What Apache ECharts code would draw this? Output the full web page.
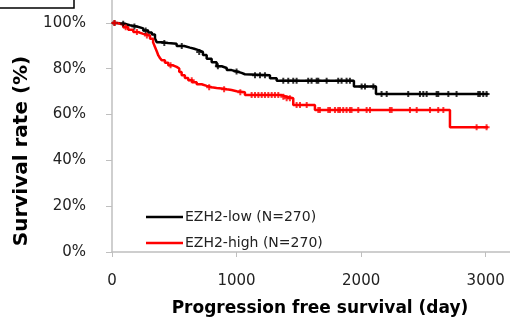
<!DOCTYPE html>
<html>
<head>
<meta charset="utf-8">
<script src="https://cdn.jsdelivr.net/npm/echarts@6/dist/echarts.min.js"></script>
<style>
  html, body { margin: 0; padding: 0; background: #fff; }
  #chart { width: 510px; height: 322px; }
</style>
</head>
<body>
<div id="chart"></div>
<script>
// Kaplan-Meier steps: day of each event and survival (%) after it
var lowDays = [0, 30, 64, 100, 144, 200, 251, 290, 320, 345, 359, 400, 450, 519, 580, 626, 660, 700, 730, 760, 800, 840, 880, 921, 960, 1001, 1040, 1067, 1268, 1322, 1942, 2119, 3020]
var lowSurv = [100, 99.8, 99.6, 99.0, 98.4, 97.6, 96.7, 95.8, 94.9, 93.2, 91.6, 91.2, 90.9, 89.9, 89.2, 88.7, 88.0, 87.3, 86.0, 84.4, 82.8, 81.1, 80.3, 79.4, 78.8, 78.2, 77.6, 77.2, 75.8, 74.7, 72.2, 69.0, 69.0]
var highDays = [0, 40, 91, 130, 171, 210, 251, 305, 330, 345, 360, 372, 385, 399, 425, 452, 490, 519, 540, 559, 585, 612, 645, 680, 720, 760, 800, 840, 880, 921, 960, 1001, 1067, 1362, 1400, 1455, 1629, 2713, 3018]
var highSurv = [100, 99.2, 98.1, 97.0, 96.0, 95.2, 94.5, 93.1, 91.5, 89.5, 87.5, 85.8, 84.7, 83.7, 82.6, 81.5, 80.8, 80.1, 78.6, 77.2, 76.0, 75.0, 74.1, 73.2, 72.5, 71.9, 71.6, 71.4, 71.0, 70.7, 70.2, 69.7, 68.5, 67.8, 67.1, 64.2, 62.0, 54.5, 54.5]

// censored cases (day)
var lowCensor = [20, 90, 180, 270, 420, 560, 700, 850, 1000, 1148, 1188, 1228, 1375, 1415, 1455, 1482, 1575, 1602, 1643, 1656, 1723, 1816, 1843, 1883, 1910, 2004, 2031, 2098, 2164, 2205, 2378, 2472, 2499, 2526, 2606, 2619, 2700, 2766, 2940, 2953, 2980, 3007]
var highCensor = [20, 110, 200, 280, 470, 640, 780, 900, 1030, 1121, 1148, 1175, 1202, 1228, 1255, 1282, 1308, 1335, 1375, 1402, 1428, 1482, 1509, 1563, 1656, 1669, 1736, 1750, 1790, 1816, 1830, 1856, 1883, 1910, 1923, 1977, 2044, 2071, 2231, 2245, 2392, 2446, 2553, 2619, 2660, 2927, 3007]

var seriesNames = ['EZH2-low (N=270)', 'EZH2-high (N=270)']
var xTicks = [0, 1000, 2000, 3000]
var yTicks = [0, 20, 40, 60, 80, 100]

function pairs(xs, ys) {
    return xs.map(function (x, i) { return [x, ys[i]] })
}
function survAt(days, surv, t) {
    var v = surv[0]
    for (var i = 0; i < days.length; i++) {
        if (days[i] <= t) v = surv[i]
    }
    return v
}
function censorPoints(c, days, surv) {
    return c.map(function (t) { return [t, survAt(days, surv, t)] })
}

var plus = 'path://M-1,-3H1V-1H3V1H1V3H-1V1H-3V-1H-1Z'
var font = 'DejaVu Sans'

var chart = echarts.init(document.getElementById('chart'))

var option = {
    animation: false,
    backgroundColor: '#fff',
    grid: { left: 112, right: 0, top: 0, bottom: 67 },
    legend: {
        orient: 'vertical',
        left: 141,
        top: 205,
        itemWidth: 37,
        itemHeight: 2.5,
        itemGap: 12,
        icon: 'rect',
        data: seriesNames,
        textStyle: { fontFamily: font, fontSize: 14, color: '#222', padding: [0, 0, 0, -3] }
    },
    xAxis: {
        type: 'value',
        min: 0,
        max: 3195,
        interval: 1000,
        name: 'Progression free survival (day)',
        nameLocation: 'middle',
        nameGap: 48,
        nameTextStyle: { fontFamily: font, fontSize: 17, fontWeight: 'bold', color: '#000', padding: [0, 0, 0, 18] },
        axisLine: { lineStyle: { color: '#bfbfbf', width: 1.5 } },
        axisTick: { show: true, length: 5, lineStyle: { color: '#bfbfbf' } },
        axisLabel: {
            fontFamily: font, fontSize: 15, color: '#222', margin: 22, showMaxLabel: false,
            formatter: function (v) { return xTicks.indexOf(v) >= 0 ? String(v) : '' }
        },
        splitLine: { show: false }
    },
    yAxis: {
        type: 'value',
        min: 0,
        max: 110,
        interval: 20,
        name: 'Survival rate (%)',
        nameLocation: 'middle',
        nameGap: 80,
        nameTextStyle: { fontFamily: font, fontSize: 20, fontWeight: 'bold', color: '#000', padding: [0, 50, 0, 0] },
        axisLine: { show: true, lineStyle: { color: '#bfbfbf', width: 1.5 } },
        axisTick: { show: true, length: 6, lineStyle: { color: '#bfbfbf' } },
        axisLabel: {
            fontFamily: font, fontSize: 15, color: '#222', margin: 26, showMaxLabel: false,
            formatter: function (v) { return yTicks.indexOf(v) >= 0 ? v + '%' : '' }
        },
        splitLine: { show: false }
    },
    series: [
        {
            name: seriesNames[0],
            type: 'line',
            step: 'end',
            showSymbol: false,
            color: '#000',
            lineStyle: { color: '#000', width: 2.5 },
            data: pairs(lowDays, lowSurv),
            z: 3
        },
        {
            name: seriesNames[1],
            type: 'line',
            step: 'end',
            showSymbol: false,
            color: '#ff0000',
            lineStyle: { color: '#ff0000', width: 2.5 },
            data: pairs(highDays, highSurv),
            z: 3
        },
        {
            name: 'low censored',
            type: 'scatter',
            symbol: plus,
            symbolSize: 6,
            itemStyle: { color: '#000' },
            data: censorPoints(lowCensor, lowDays, lowSurv),
            z: 4
        },
        {
            name: 'high censored',
            type: 'scatter',
            symbol: plus,
            symbolSize: 6,
            itemStyle: { color: '#ff0000' },
            data: censorPoints(highCensor, highDays, highSurv),
            z: 4
        }
    ],
    graphic: [
        {
            type: 'rect',
            shape: { x: -2, y: -2, width: 76, height: 10 },
            style: { fill: 'none', stroke: '#000', lineWidth: 1.5 }
        }
    ]
}

chart.setOption(option)
</script>
</body>
</html>
